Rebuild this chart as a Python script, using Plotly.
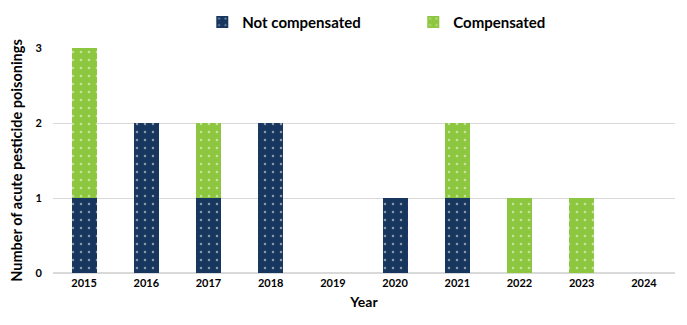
import plotly.graph_objects as go

years = ["2015", "2016", "2017", "2018", "2019", "2020", "2021", "2022", "2023", "2024"]
not_compensated = [1, 2, 1, 2, 0, 1, 1, 0, 0, 0]
compensated = [2, 0, 1, 0, 0, 0, 1, 1, 1, 0]

navy = "#17375E"
green = "#8DC63F"
font = "Lato"

fig = go.Figure()
fig.add_trace(go.Bar(
    x=years, y=not_compensated, name="Not compensated",
    marker=dict(color=navy, line=dict(width=0),
                pattern=dict(shape=".", fgcolor="white", size=8, solidity=0.08, fillmode="overlay")),
))
fig.add_trace(go.Bar(
    x=years, y=compensated, name="Compensated",
    marker=dict(color=green, line=dict(width=0),
                pattern=dict(shape=".", fgcolor="white", size=8, solidity=0.08, fillmode="overlay")),
))

fig.update_layout(
    barmode="stack",
    bargap=0.6,
    width=687, height=325,
    margin=dict(l=53, r=12, t=48, b=52, autoexpand=False),
    plot_bgcolor="white", paper_bgcolor="white",
    font=dict(family=font, color="#000000", size=11),
    legend=dict(orientation="h", x=0.24, xanchor="left", y=1.115, yanchor="middle",
                traceorder="normal",
                font=dict(size=15, family=font, weight="bold"), entrywidth=166,
                itemsizing="constant"),
    showlegend=True,
)
fig.update_xaxes(
    title=dict(text="Year", font=dict(size=14, weight="bold"), standoff=8),
    tickfont=dict(size=11, weight="bold"),
    showline=True, linecolor="#D9D9D9", linewidth=1, ticks="",
)
fig.update_yaxes(
    title=dict(text="Number of acute pesticide poisonings", font=dict(size=14.5, weight="bold"), standoff=9),
    range=[0, 3], dtick=1, tickfont=dict(size=11, weight="bold"),
    showgrid=True, gridcolor="#D9D9D9", gridwidth=1, zeroline=True, zerolinecolor="#D9D9D9",
    ticks="outside", ticklen=8, tickcolor="rgba(0,0,0,0)",
)

fig.write_html("out.html")
